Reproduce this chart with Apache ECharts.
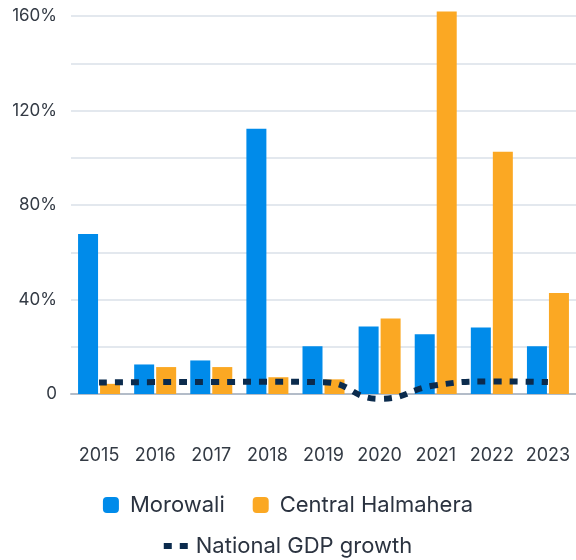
<!DOCTYPE html>
<html><head><meta charset="utf-8">
<script src="https://cdn.jsdelivr.net/npm/echarts@6/dist/echarts.min.js"></script>
<style>html,body{margin:0;padding:0;background:#fff}#c{width:576px;height:560px}</style>
</head><body><div id="c"></div>
<script>
const years = ['2015','2016','2017','2018','2019','2020','2021','2022','2023'];
const morowali = [67.7, 12.5, 14.2, 112.3, 20.2, 28.6, 25.3, 28.2, 20.2];
const centralHalmahera = [4.3, 11.4, 11.4, 7.1, 6.2, 32.0, 161.9, 102.5, 42.7];
const nationalGdp = [4.88, 5.03, 5.07, 5.17, 5.02, -2.07, 3.70, 5.31, 5.05];
const yTicks = [0, 40, 80, 120, 160];

const FONT = 'Inter';
const chart = echarts.init(document.getElementById('c'));
chart.setOption({
  animation: false,
  textStyle: {fontFamily: FONT},
  grid: {left: 71, right: 0, top: 16, bottom: 166},
  legend: [
    {data: ['Morowali', 'Central Halmahera'], top: 489, left: 'center',
     itemWidth: 16, itemHeight: 16, itemGap: 28,
     textStyle: {fontSize: 22, color: '#2b3340', fontFamily: FONT, padding: [0,0,0,6]}},
    {data: [{name: 'National GDP growth', icon: 'path://M0,0h8v6h-8zM16,0h8v6h-8z'}], top: 530, left: 'center',
     itemWidth: 24, itemHeight: 7,
     textStyle: {fontSize: 22, color: '#2b3340', fontFamily: FONT, padding: [0,0,0,3]}}
  ],
  xAxis: {
    type: 'category', data: years,
    axisTick: {show: false},
    axisLine: {lineStyle: {color: '#b3bcc8', width: 2}},
    axisLabel: {color: '#333a44', fontSize: 18, margin: 53, interval: 0, fontFamily: FONT}
  },
  yAxis: {
    type: 'value', min: 0, max: 160, interval: 20,
    axisLine: {show: false}, axisTick: {show: false},
    splitLine: {lineStyle: {color: '#e3e8ee', width: 2}},
    axisLabel: {color: '#333a44', fontSize: 17, margin: 14, fontFamily: FONT,
      formatter: v => yTicks.includes(v) ? (v === 0 ? '0' : v + '%') : ''}
  },
  series: [
    {name: 'Morowali', type: 'bar', data: morowali, barWidth: 20, barGap: '10%', clip: false,
     itemStyle: {color: '#008bea'}},
    {name: 'Central Halmahera', type: 'bar', data: centralHalmahera, barWidth: 20, barGap: '10%', clip: false,
     itemStyle: {color: '#fba823'}},
    {name: 'National GDP growth', type: 'line', data: nationalGdp, smooth: true, clip: false,
     symbol: 'none', z: 5,
     lineStyle: {color: '#0b2b4d', width: 6, type: [8, 8]},
     itemStyle: {color: '#0b2b4d'}}
  ]
});
</script></body></html>
